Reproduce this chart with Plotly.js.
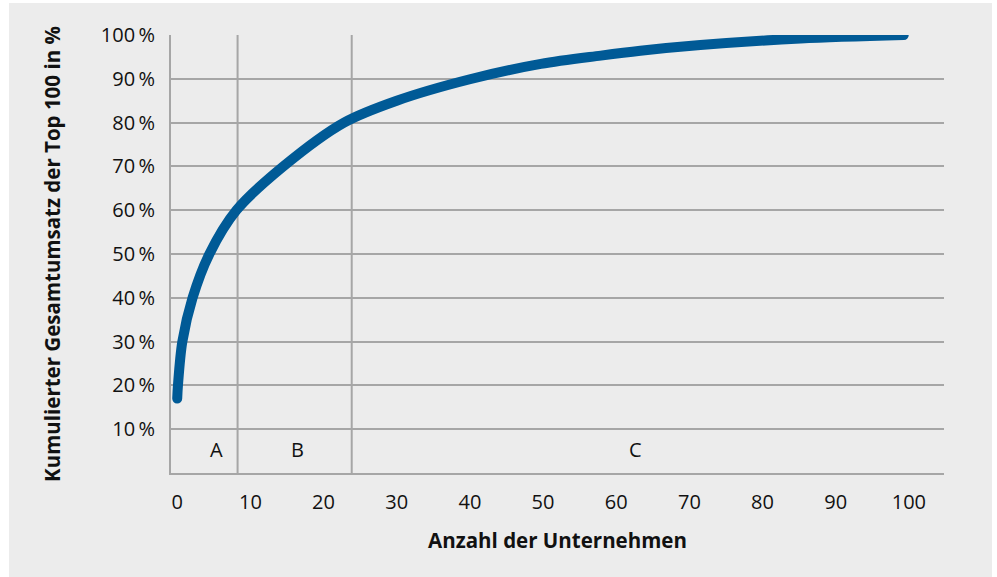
<!DOCTYPE html>
<html>
<head>
<meta charset="utf-8">
<script src="https://cdn.plot.ly/plotly-3.0.1.min.js"></script>
<style>
  html, body { margin: 0; padding: 0; background: #ffffff; }
  #chart { position: absolute; left: 9px; top: 3px; width: 983px; height: 574px; }
</style>
</head>
<body>
<div id="chart"></div>
<script>
// Data
const companies = [0, 0.1, 0.7, 2.1, 4.4, 8.1, 14.5, 22.8, 30, 40, 49.7, 57.9, 63.3, 71.5, 85.2, 99.3];
const cumulativeShare = [17, 20, 30, 40, 50, 60, 70, 80, 85, 89.9, 93.4, 95.3, 96.4, 97.7, 99.2, 100];
const yTickValues = [10, 20, 30, 40, 50, 60, 70, 80, 90, 100];
const yTickLabels = ['10\u2009%', '20\u2009%', '30\u2009%', '40\u2009%', '50\u2009%', '60\u2009%', '70\u2009%', '80\u2009%', '90\u2009%', '100\u2009%'];
const xTickValues = [0, 10, 20, 30, 40, 50, 60, 70, 80, 90, 100];
const classBoundaries = [8.25, 23.85];
const classLabels = ['A', 'B', 'C'];
const classLabelX = [5.3, 16.5, 62.7];
const classLabelY = 5.3;

const FONT = '"Open Sans", "Noto Sans", sans-serif';
const GRID = '#a6a6a6';
const TXT = '#111111';

const trace = {
  type: 'scatter',
  mode: 'lines',
  x: companies,
  y: cumulativeShare,
  line: { color: '#005a96', width: 10, shape: 'spline', smoothing: 0.9 },
  hoverinfo: 'x+y'
};

const shapes = classBoundaries.map(b => ({
  type: 'line', xref: 'x', yref: 'y', x0: b, x1: b, y0: 0, y1: 100,
  line: { color: GRID, width: 2 }, layer: 'below'
}));

const annotations = classLabels.map((t, i) => ({
  x: classLabelX[i], y: classLabelY, xref: 'x', yref: 'y', text: t,
  showarrow: false, font: { family: FONT, size: 20, color: TXT }
}));

const layout = {
  width: 983, height: 574,
  margin: { l: 162, r: 48, t: 31.5, b: 103.8 },
  paper_bgcolor: '#ececec',
  plot_bgcolor: '#ececec',
  showlegend: false,
  font: { family: FONT, size: 20, color: TXT },
  xaxis: {
    range: [-0.85, 104.8],
    tickvals: xTickValues,
    ticktext: xTickValues.map(String),
    showgrid: false, zeroline: false,
    showline: true, linecolor: GRID, linewidth: 2,
    ticks: 'outside', ticklen: 10, tickcolor: 'rgba(0,0,0,0)',
    tickfont: { family: FONT, size: 20, color: TXT },
    title: { text: 'Anzahl der Unternehmen', standoff: 20,
             font: { family: FONT, size: 20.5, color: TXT, weight: 'bold' } }
  },
  yaxis: {
    range: [0, 100],
    tickvals: yTickValues,
    ticktext: yTickLabels,
    showgrid: true, gridcolor: GRID, gridwidth: 2,
    zeroline: false,
    showline: true, linecolor: GRID, linewidth: 2,
    ticks: 'outside', ticklen: 10, tickcolor: 'rgba(0,0,0,0)',
    tickfont: { family: FONT, size: 20, color: TXT },
    title: { text: 'Kumulierter Gesamtumsatz der Top 100 in %', standoff: 35,
             font: { family: FONT, size: 20.5, color: TXT, weight: 'bold' } }
  },
  shapes: shapes,
  annotations: annotations
};

Plotly.newPlot('chart', [trace], layout, { displayModeBar: false, staticPlot: true }).then(() => {
  document.querySelectorAll('.scatterlayer path.js-line').forEach(p => {
    p.style.strokeLinecap = 'round';
    p.style.strokeLinejoin = 'round';
  });
});
</script>
</body>
</html>
